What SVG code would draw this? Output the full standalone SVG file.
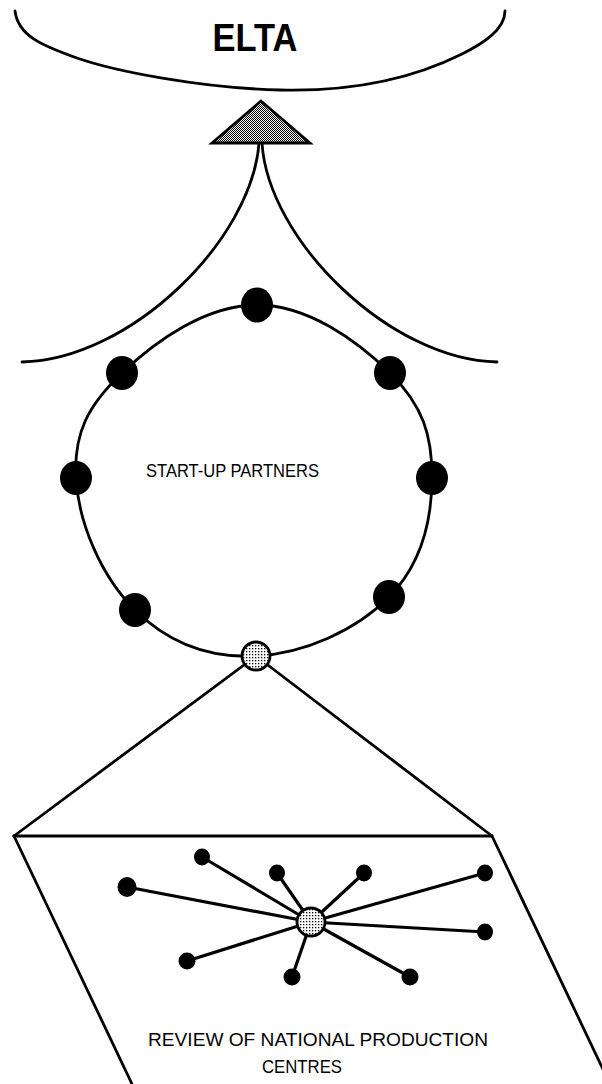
<svg xmlns="http://www.w3.org/2000/svg" width="602" height="1084" viewBox="0 0 602 1084">
<style>
.ln{fill:none;stroke:#000;stroke-width:2.8;stroke-linecap:round;stroke-linejoin:round}
.sp{stroke:#000;stroke-width:3.2;stroke-linecap:round}
.dot{fill:#000}
.light{fill:url(#lightdots);stroke:#000;stroke-width:2.8}
.lbl{font-family:"Liberation Sans",Arial,sans-serif;fill:#000}
</style>
<defs>
<pattern id="lightdots" width="3" height="3" patternUnits="userSpaceOnUse">
<rect width="3" height="3" fill="#fff"/>
<rect x="0" y="0" width="1.3" height="1.3" fill="#000"/>
</pattern>
<pattern id="darkdots" width="2" height="2" patternUnits="userSpaceOnUse">
<rect width="2" height="2" fill="#fff"/>
<rect x="0" y="0" width="1" height="1" fill="#000"/>
<rect x="1" y="1" width="1" height="1" fill="#000"/>
</pattern>
</defs>
<rect width="602" height="1084" fill="#fff"/>

<g id="elta">
<path class="ln" d="M15,11 C18,35 40,45 77,58 S200,88 280,90 S420,75 462,54 C482,44 505,30 505,11"/>
<text class="lbl" x="255" y="51" font-size="38" font-weight="bold" text-anchor="middle" textLength="85" lengthAdjust="spacingAndGlyphs">ELTA</text>
</g>

<g id="connectors">
<path class="ln" d="M259,143 C252,240 130,360 22,362"/>
<path class="ln" d="M262,143 C268,240 390,360 497,362"/>
<line class="ln" x1="256" y1="656" x2="14" y2="836"/>
<line class="ln" x1="256" y1="656" x2="492" y2="836"/>
<line class="sp" x1="311" y1="922" x2="127" y2="887"/>
<line class="sp" x1="311" y1="922" x2="202" y2="857"/>
<line class="sp" x1="311" y1="922" x2="277" y2="873"/>
<line class="sp" x1="311" y1="922" x2="364" y2="873"/>
<line class="sp" x1="311" y1="922" x2="485" y2="873"/>
<line class="sp" x1="311" y1="922" x2="485" y2="932"/>
<line class="sp" x1="311" y1="922" x2="187" y2="961"/>
<line class="sp" x1="311" y1="922" x2="292" y2="977"/>
<line class="sp" x1="311" y1="922" x2="410" y2="977"/>
</g>

<g id="triangle">
<polygon points="261,101 212,143 310,143" fill="url(#darkdots)" stroke="#000" stroke-width="2.8" stroke-linejoin="miter"/>
</g>

<g id="start-up-partners">
<path class="ln" d="M257,305 C307.6,305 357,340.4 390,373 C423,405.6 432.2,435.7 432,478 C431.8,520.3 422.2,563.4 389,597 C355.8,630.6 303.9,653.5 256,656 C208.1,658.5 169,643.6 135,610 C101,576.4 78.5,522.7 76,478 C73.5,433.3 87.8,405.6 122,373 C156.2,340.4 206.4,305 257,305 Z"/>
<ellipse class="dot" cx="257" cy="305" rx="16" ry="17.5"/>
<ellipse class="dot" cx="122" cy="373" rx="16" ry="17"/>
<ellipse class="dot" cx="390" cy="373" rx="16" ry="17"/>
<ellipse class="dot" cx="76" cy="478" rx="16" ry="17"/>
<ellipse class="dot" cx="432" cy="478" rx="16" ry="17"/>
<ellipse class="dot" cx="135" cy="610" rx="16" ry="17"/>
<ellipse class="dot" cx="389" cy="597" rx="16" ry="17"/>
<circle class="light" cx="256" cy="656" r="14"/>
<text class="lbl" x="146" y="477" font-size="18" textLength="173" lengthAdjust="spacingAndGlyphs">START-UP PARTNERS</text>
</g>

<g id="national-centres">
<path class="ln" d="M14,836 L492,836"/>
<path class="ln" d="M14,836 L132,1084"/>
<path class="ln" d="M492,836 L610,1084"/>
<ellipse class="dot" cx="127" cy="887" rx="9.5" ry="10"/>
<ellipse class="dot" cx="202" cy="857" rx="8" ry="8.5"/>
<ellipse class="dot" cx="277" cy="873" rx="8" ry="8.5"/>
<ellipse class="dot" cx="364" cy="873" rx="8" ry="8.5"/>
<ellipse class="dot" cx="485" cy="873" rx="8" ry="8.5"/>
<ellipse class="dot" cx="485" cy="932" rx="8" ry="8.5"/>
<ellipse class="dot" cx="187" cy="961" rx="8.5" ry="8.5"/>
<ellipse class="dot" cx="292" cy="977" rx="8.5" ry="8.5"/>
<ellipse class="dot" cx="410" cy="977" rx="8.5" ry="8.5"/>
<circle class="light" cx="311" cy="922" r="14"/>
<text class="lbl" x="148" y="1046" font-size="19" textLength="340" lengthAdjust="spacingAndGlyphs">REVIEW OF NATIONAL PRODUCTION</text>
<text class="lbl" x="262" y="1073" font-size="19" textLength="80" lengthAdjust="spacingAndGlyphs">CENTRES</text>
</g>
</svg>
